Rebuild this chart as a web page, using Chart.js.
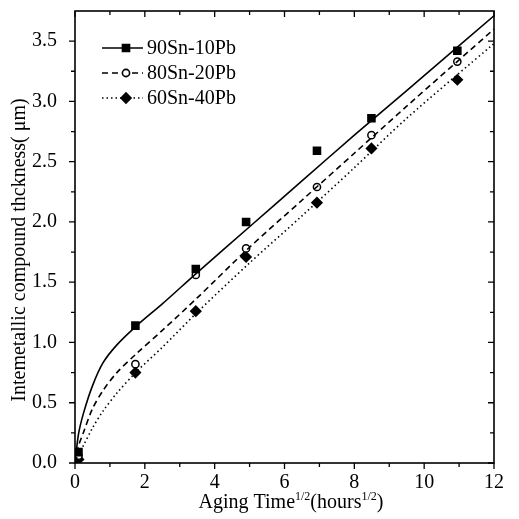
<!DOCTYPE html>
<html>
<head>
<meta charset="utf-8">
<script src="https://cdn.jsdelivr.net/npm/chart.js@4.4.0/dist/chart.umd.min.js"></script>
<style>
  html, body { margin: 0; padding: 0; background: #fff; }
  #wrap { width: 519px; height: 519px; }
</style>
</head>
<body>
<div id="wrap"><canvas id="c"></canvas></div>
<script>
const seriesNames = ['90Sn-10Pb', '80Sn-20Pb', '60Sn-40Pb'];
// sqrt of aging hours where the samples were measured
const agingX = [0.1, 1.73, 3.46, 4.90, 6.93, 8.49, 10.95];
const pts90 = [0.09, 1.14, 1.61, 2.00, 2.59, 2.86, 3.42];
const pts80 = [0.06, 0.82, 1.56, 1.78, 2.29, 2.72, 3.33];
const pts60 = [0.03, 0.75, 1.26, 1.71, 2.16, 2.61, 3.18];

// fitted curves
const fitX = [0, 0.1, 0.25, 0.5, 0.8, 1.2, 1.77, 2.5, 3.5, 5, 6.5, 8, 9.5, 12];
const fit90Y = [0, 0.24, 0.42, 0.64, 0.83, 0.98, 1.14, 1.32, 1.58, 1.96, 2.34, 2.72, 3.09, 3.71];
const fit80Y = [0, 0.14, 0.26, 0.45, 0.60, 0.75, 0.91, 1.10, 1.37, 1.79, 2.18, 2.57, 2.96, 3.60];
const fit60Y = [0, 0.07, 0.15, 0.29, 0.43, 0.58, 0.76, 0.96, 1.25, 1.66, 2.05, 2.45, 2.86, 3.48];

const xTicks = [0, 2, 4, 6, 8, 10, 12];
const yTicks = [0, 0.5, 1, 1.5, 2, 2.5, 3, 3.5];

const FONT = '"Liberation Serif", "Times New Roman", serif';

function pairs(xs, ys) {
    return xs.map((v, i) => ({ x: v, y: ys[i] }));
}

const lineStyles = [
    { dash: [], style: 'rect', radius: 5, fill: '#000' },
    { dash: [6, 4], style: 'circle', radius: 3.6, fill: '#fff' },
    { dash: [1.5, 3], style: 'rectRot', radius: 5, fill: '#000' }
];

function curve(ys, i) {
    return {
        data: pairs(fitX, ys),
        showLine: true,
        borderColor: '#000',
        borderWidth: 1.6,
        borderDash: lineStyles[i].dash,
        pointRadius: 0,
        tension: 0.3
    };
}

function marks(ys, i) {
    return {
        data: pairs(agingX, ys),
        showLine: false,
        pointStyle: lineStyles[i].style,
        pointRadius: lineStyles[i].radius,
        pointBackgroundColor: lineStyles[i].fill,
        pointBorderColor: '#000',
        pointBorderWidth: 1.5
    };
}

// frame, ticks, titles, legend
const decor = {
    id: 'decor',
    afterDraw(chart) {
        const ctx = chart.ctx;
        const a = chart.chartArea;
        const x = chart.scales.x, y = chart.scales.y;
        ctx.save();
        ctx.strokeStyle = '#000';
        ctx.lineWidth = 1.6;
        ctx.strokeRect(a.left, a.top, a.right - a.left, a.bottom - a.top);
        ctx.lineWidth = 1.3;
        ctx.beginPath();
        for (let v = 0; v <= 12; v++) {
            const px = x.getPixelForValue(v);
            const len = v % 2 === 0 ? 6 : 4;
            ctx.moveTo(px, a.bottom); ctx.lineTo(px, a.bottom + len);
            ctx.moveTo(px, a.top); ctx.lineTo(px, a.top + len);
        }
        for (let i = 0; i <= 14; i++) {
            const py = y.getPixelForValue(i * 0.25);
            const len = i % 2 === 0 ? 6 : 4;
            ctx.moveTo(a.left, py); ctx.lineTo(a.left - len, py);
            ctx.moveTo(a.right, py); ctx.lineTo(a.right - len, py);
        }
        ctx.stroke();

        // y title
        ctx.fillStyle = '#000';
        ctx.font = '20px ' + FONT;
        ctx.textAlign = 'center';
        ctx.textBaseline = 'middle';
        ctx.save();
        ctx.translate(20, 250);
        ctx.rotate(-Math.PI / 2);
        ctx.fillText('Intemetallic compound thckness( \u03bcm)', 0, 0);
        ctx.restore();

        // x title with superscripts
        const parts = [['Aging Time', 20, 0], ['1/2', 12, -8], ['(hours', 20, 0], ['1/2', 12, -8], [')', 20, 0]];
        let total = 0;
        parts.forEach(p => { ctx.font = p[1] + 'px ' + FONT; total += ctx.measureText(p[0]).width; });
        let cx = 291 - total / 2;
        ctx.textAlign = 'left';
        ctx.textBaseline = 'alphabetic';
        parts.forEach(p => {
            ctx.font = p[1] + 'px ' + FONT;
            ctx.fillText(p[0], cx, 508 + p[2]);
            cx += ctx.measureText(p[0]).width;
        });

        // legend
        const rows = [48, 73, 98];
        seriesNames.forEach((name, i) => {
            const ly = rows[i];
            ctx.strokeStyle = '#000';
            ctx.lineWidth = 1.6;
            ctx.setLineDash(lineStyles[i].dash);
            ctx.beginPath();
            ctx.moveTo(102, ly); ctx.lineTo(143, ly);
            ctx.stroke();
            ctx.setLineDash([]);
            ctx.fillStyle = lineStyles[i].fill;
            Chart.helpers.drawPoint(ctx, {
                pointStyle: lineStyles[i].style,
                radius: lineStyles[i].radius,
                borderWidth: 1.5
            }, 126, ly);
            ctx.fillStyle = '#000';
            ctx.font = '20px ' + FONT;
            ctx.textBaseline = 'middle';
            ctx.fillText(name, 147, ly + 1);
        });
        ctx.restore();
    }
};

const datasets = [
    curve(fit90Y, 0),
    curve(fit80Y, 1),
    curve(fit60Y, 2),
    marks(pts90, 0),
    marks(pts80, 1),
    marks(pts60, 2)
];

new Chart(document.getElementById('c'), {
    type: 'scatter',
    data: { datasets: datasets },
    options: {
        responsive: true,
        maintainAspectRatio: false,
        animation: false,
        layout: { padding: { top: 11, right: 25, left: 0, bottom: 0 } },
        plugins: { legend: { display: false }, tooltip: { enabled: false } },
        scales: {
            x: {
                type: 'linear',
                min: 0, max: 12,
                afterBuildTicks: s => { s.ticks = xTicks.map(v => ({ value: v })); },
                afterFit: s => { s.height = 56; s.paddingLeft = 0; s.paddingRight = 0; },
                grid: { display: false },
                border: { display: false },
                ticks: { color: '#000', padding: 0, font: { family: FONT, size: 20 }, maxRotation: 0 }
            },
            y: {
                type: 'linear',
                min: 0, max: 3.75,
                afterBuildTicks: s => { s.ticks = yTicks.map(v => ({ value: v })); },
                afterFit: s => { s.width = 75; s.paddingTop = 0; s.paddingBottom = 0; },
                grid: { display: false },
                border: { display: false },
                ticks: {
                    color: '#000', padding: 10, font: { family: FONT, size: 20 },
                    callback: v => Number(v).toFixed(1)
                }
            }
        }
    },
    plugins: [decor]
});
</script>
</body>
</html>
